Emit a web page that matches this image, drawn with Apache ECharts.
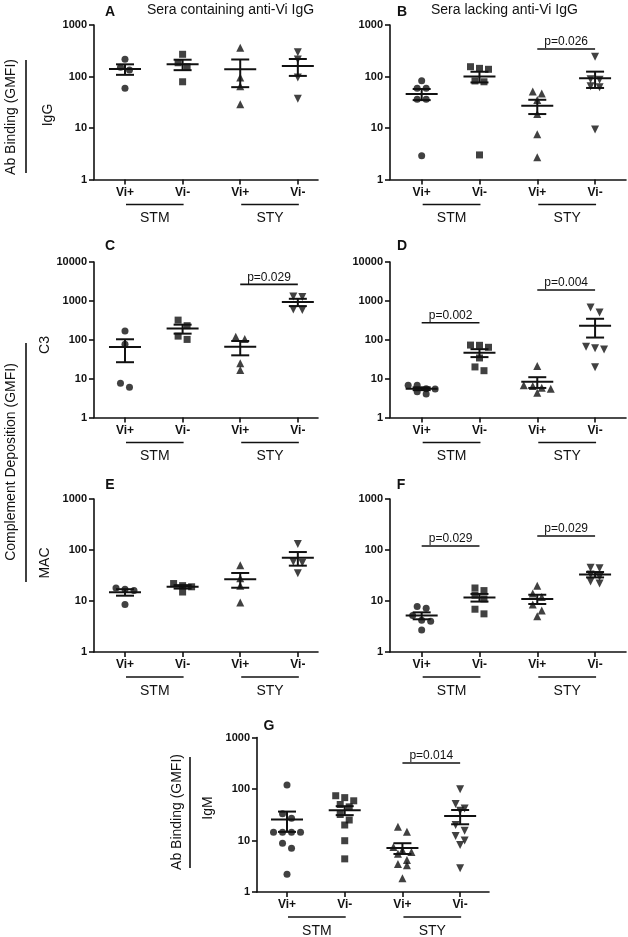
<!DOCTYPE html>
<html><head><meta charset="utf-8">
<script src="https://cdn.jsdelivr.net/npm/echarts@6/dist/echarts.min.js"></script>
<style>html,body{margin:0;padding:0;background:#fff}#c{width:628px;height:937px}</style>
</head><body><div id="c"></div>
<script>
// ---------- DATA ----------
const catLabels = ['Vi+', 'Vi-', 'Vi+', 'Vi-'];
const groupNames = ['STM', 'STY'];
const groupSpans = [[1, 2], [3, 4]];

// Panel A: sera containing anti-Vi IgG, IgG binding
const A_STM_pos = [216, 151, 134, 59];
const A_STM_neg = [270, 185, 155, 79];
const A_STY_pos = [362, 96, 65, 29];
const A_STY_neg = [295, 215, 96, 37];
// Panel B: sera lacking anti-Vi IgG, IgG binding
const B_STM_pos = [83, 59, 59, 36, 36, 2.9];
const B_STM_neg = [155, 144, 138, 82, 79, 3];
const B_STY_pos = [51, 47, 35, 18.6, 7.6, 2.7];
const B_STY_neg = [242, 88, 86, 65, 62, 9.4];
// Panel C: C3, sera containing anti-Vi IgG
const C_STM_pos = [168, 77, 7.6, 6];
const C_STM_neg = [320, 230, 124, 102];
const C_STY_pos = [119, 105, 24.7, 16.6];
const C_STY_neg = [1300, 1250, 600, 580];
// Panel D: C3, sera lacking anti-Vi IgG
const D_STM_pos = [6.8, 6.8, 5.5, 5.4, 4.6, 4.0];
const D_STM_neg = [73, 72, 64, 34, 20, 16];
const D_STY_pos = [21, 6.8, 6.5, 5.8, 5.5, 4.3];
const D_STY_neg = [680, 500, 66, 60, 56, 19.5];
// Panel E: MAC, sera containing anti-Vi IgG
const E_STM_pos = [18, 17, 16, 8.5];
const E_STM_neg = [22, 20, 19, 15];
const E_STY_pos = [50, 28, 20, 9.3];
const E_STY_neg = [131, 59, 56, 35];
// Panel F: MAC, sera lacking anti-Vi IgG
const F_STM_pos = [7.8, 7.2, 5.2, 4.2, 4.0, 2.7];
const F_STM_neg = [18, 16, 13, 11, 6.9, 5.6];
const F_STY_pos = [20, 14, 12, 8.5, 6.5, 5];
const F_STY_neg = [45, 44, 33, 30, 24, 22];
// Panel G: IgM binding
const G_STM_pos = [120, 33, 27, 14.4, 14.4, 14.4, 14.4, 8.8, 7.1, 2.2];
const G_STM_neg = [74, 68, 59, 50, 45, 32, 25, 20, 9.9, 4.4];
const G_STY_pos = [18.5, 14.8, 7.5, 6.5, 6.0, 5.5, 4.2, 3.5, 3.3, 1.85];
const G_STY_neg = [99, 51, 42, 38, 20, 15.5, 12.2, 10, 8.2, 2.9];

// p-value annotations: [fromCategory, toCategory, level, text]
const B_pvals = [[3, 4, 342, 'p=0.026']];
const C_pvals = [[3, 4, 2655, 'p=0.029']];
const D_pvals = [[1, 2, 274, 'p=0.002'], [3, 4, 1896, 'p=0.004']];
const F_pvals = [[1, 2, 120, 'p=0.029'], [3, 4, 188, 'p=0.029']];
const G_pvals = [[3, 4, 320, 'p=0.014']];

const yMaxIg = 1000;
const yMaxC3 = 10000;

// ---------- LAYOUT / STYLE ----------
const FONT = '"Liberation Sans", Arial, Helvetica, sans-serif';
const INK = '#111';
const xLeft = { min: 0.462, max: 4.35 };
const xRight = { min: 0.452, max: 4.535 };
const xG = { min: 0.48, max: 4.5 };

const panels = [
  { groups: [A_STM_pos, A_STM_neg, A_STY_pos, A_STY_neg], yMax: yMaxIg, pvals: [], grid: { left: 94, top: 25, width: 224, height: 154.5 }, x: xLeft },
  { groups: [B_STM_pos, B_STM_neg, B_STY_pos, B_STY_neg], yMax: yMaxIg, pvals: B_pvals, grid: { left: 390, top: 25, width: 236, height: 154.5 }, x: xRight },
  { groups: [C_STM_pos, C_STM_neg, C_STY_pos, C_STY_neg], yMax: yMaxC3, pvals: C_pvals, grid: { left: 94, top: 262, width: 224, height: 155.5 }, x: xLeft },
  { groups: [D_STM_pos, D_STM_neg, D_STY_pos, D_STY_neg], yMax: yMaxC3, pvals: D_pvals, grid: { left: 390, top: 262, width: 236, height: 155.5 }, x: xRight },
  { groups: [E_STM_pos, E_STM_neg, E_STY_pos, E_STY_neg], yMax: yMaxIg, pvals: [], grid: { left: 94, top: 499, width: 224, height: 153 }, x: xLeft },
  { groups: [F_STM_pos, F_STM_neg, F_STY_pos, F_STY_neg], yMax: yMaxIg, pvals: F_pvals, grid: { left: 390, top: 499, width: 236, height: 153 }, x: xRight },
  { groups: [G_STM_pos, G_STM_neg, G_STY_pos, G_STY_neg], yMax: yMaxIg, pvals: G_pvals, grid: { left: 257, top: 737.5, width: 232, height: 154.5 }, x: xG }
];

const markers = [
  { symbol: 'circle', size: 7, rot: 0 },
  { symbol: 'rect', size: 7, rot: 0 },
  { symbol: 'triangle', size: 8, rot: 0 },
  { symbol: 'triangle', size: 8, rot: 180 }
];

const SPREAD = 9, ROW_PX = 6.5;

function mean(a) { return a.reduce((s, v) => s + v, 0) / a.length; }
function sem(a) {
  const m = mean(a);
  const v = a.reduce((s, x) => s + (x - m) * (x - m), 0) / (a.length - 1);
  return Math.sqrt(v) / Math.sqrt(a.length);
}
// deterministic scatter-dot spreading (points at similar heights are placed side by side)
function swarm(values, pxPerDecade) {
  const order = values.map((v, i) => ({ v, i })).sort((a, b) => b.v - a.v);
  const offs = new Array(values.length).fill(0);
  let row = [], rowTop = null;
  const flush = () => { row.forEach((o, j) => { offs[o.i] = (j - (row.length - 1) / 2) * SPREAD; }); row = []; };
  for (const o of order) {
    if (row.length && pxPerDecade * Math.log10(rowTop / o.v) > ROW_PX) flush();
    if (!row.length) rowTop = o.v;
    row.push(o);
  }
  flush();
  return offs;
}

const grids = [], xAxes = [], yAxes = [], series = [];
const lineStyle = { color: INK, width: 1.6 };

panels.forEach((p, i) => {
  grids.push(Object.assign({ containLabel: false }, p.grid));
  xAxes.push({
    gridIndex: i, type: 'value', min: p.x.min, max: p.x.max,
    axisLine: { show: true, onZero: false, lineStyle },
    axisTick: { show: true, customValues: [1, 2, 3, 4], length: 5, lineStyle },
    axisLabel: { show: true, customValues: [1, 2, 3, 4], formatter: v => catLabels[Math.round(v) - 1] || '',
      fontFamily: FONT, fontWeight: 'bold', fontSize: 12, color: INK, margin: 7 },
    splitLine: { show: false }
  });
  yAxes.push({
    gridIndex: i, type: 'log', logBase: 10, min: 1, max: p.yMax,
    axisLine: { show: true, onZero: false, lineStyle },
    axisTick: { show: true, length: 5, lineStyle },
    axisLabel: { formatter: v => String(Math.round(v)), fontFamily: FONT, fontWeight: 'bold', fontSize: 11, color: INK, margin: 7 },
    splitLine: { show: false }
  });
  const decades = Math.log10(p.yMax);
  const pxPerDecade = p.grid.height / decades;

  p.groups.forEach((g, j) => {
    const offs = swarm(g, pxPerDecade);
    const mk = markers[j];
    series.push({
      type: 'scatter', xAxisIndex: i, yAxisIndex: i, silent: true, z: 3,
      symbol: mk.symbol, symbolSize: mk.size, symbolRotate: mk.rot,
      itemStyle: { color: INK },
      data: g.map((v, k) => ({ value: [j + 1, v], symbolOffset: [offs[k], 0] }))
    });
  });

  // mean +/- SEM
  series.push({
    type: 'custom', xAxisIndex: i, yAxisIndex: i, silent: true, z: 5, clip: false,
    encode: { x: 0, y: 1 },
    data: p.groups.map((g, j) => [j + 1, mean(g), sem(g)]),
    renderItem: (params, api) => {
      const k = api.value(0), m = api.value(1), s = api.value(2);
      const c = api.coord([k, m]), hi = api.coord([k, m + s]), lo = api.coord([k, Math.max(m - s, 1e-3)]);
      const st = { stroke: INK, lineWidth: 2 };
      return { type: 'group', children: [
        { type: 'line', shape: { x1: c[0] - 16, y1: c[1], x2: c[0] + 16, y2: c[1] }, style: st },
        { type: 'line', shape: { x1: hi[0], y1: hi[1], x2: lo[0], y2: lo[1] }, style: st },
        { type: 'line', shape: { x1: hi[0] - 9, y1: hi[1], x2: hi[0] + 9, y2: hi[1] }, style: st },
        { type: 'line', shape: { x1: lo[0] - 9, y1: lo[1], x2: lo[0] + 9, y2: lo[1] }, style: st }
      ] };
    }
  });

  // group labels under the axis (STM / STY with underline)
  series.push({
    type: 'custom', xAxisIndex: i, yAxisIndex: i, silent: true, z: 5, clip: false,
    encode: { x: [0, 2], y: 1 },
    data: groupSpans.map((sp, j) => [sp[0], 1, sp[1], j]),
    renderItem: (params, api) => {
      const a = api.coord([api.value(0), api.value(1)]);
      const b = api.coord([api.value(2), api.value(1)]);
      const name = groupNames[api.value(3)];
      return { type: 'group', children: [
        { type: 'line', shape: { x1: a[0] + 1, y1: a[1] + 25, x2: b[0] + 1, y2: b[1] + 25 }, style: { stroke: INK, lineWidth: 1.6 } },
        { type: 'text', x: (a[0] + b[0]) / 2 + 1, y: a[1] + 39, style: { text: name, font: '14px ' + FONT, fill: INK, align: 'center', verticalAlign: 'middle', textAlign: 'center', textVerticalAlign: 'middle' } }
      ] };
    }
  });

  if (p.pvals.length) {
    const pv = p.pvals;
    series.push({
      type: 'custom', xAxisIndex: i, yAxisIndex: i, silent: true, z: 5, clip: false,
      encode: { x: [0, 2], y: 1 },
      data: pv.map((q, j) => [q[0], q[2], q[1], j]),
      renderItem: (params, api) => {
        const a = api.coord([api.value(0), api.value(1)]);
        const b = api.coord([api.value(2), api.value(1)]);
        const txt = pv[api.value(3)][3];
        return { type: 'group', children: [
          { type: 'line', shape: { x1: a[0], y1: a[1], x2: b[0], y2: b[1] }, style: { stroke: INK, lineWidth: 1.6 } },
          { type: 'text', x: (a[0] + b[0]) / 2, y: a[1] - 7, style: { text: txt, font: '12px ' + FONT, fill: INK, align: 'center', verticalAlign: 'middle', textAlign: 'center', textVerticalAlign: 'middle' } }
        ] };
      }
    });
  }
});

function txt(x, y, text, size, bold, rot, align) {
  return { type: 'text', x, y, rotation: rot || 0, silent: true,
    style: { text, font: (bold ? 'bold ' : '') + size + 'px ' + FONT, fill: INK,
      align: align || 'center', verticalAlign: 'middle', textAlign: align || 'center', textVerticalAlign: 'middle' } };
}
function vline(x, y1, y2) {
  return { type: 'line', silent: true, shape: { x1: x, y1, x2: x, y2 }, style: { stroke: INK, lineWidth: 1.6 } };
}
const R = Math.PI / 2;
const graphics = [
  txt(110, 12, 'A', 14, true), txt(147, 10, 'Sera containing anti-Vi IgG', 14, false, 0, 'left'),
  txt(402, 12, 'B', 14, true), txt(431, 10, 'Sera lacking anti-Vi IgG', 14, false, 0, 'left'),
  txt(110, 246, 'C', 14, true), txt(402, 246, 'D', 14, true),
  txt(110, 485, 'E', 14, true), txt(401, 485, 'F', 14, true),
  txt(269, 726, 'G', 14, true),
  txt(11, 117, 'Ab Binding (GMFI)', 14, false, R), vline(26, 60, 173), txt(48, 115, 'IgG', 14, false, R),
  txt(11, 462, 'Complement Deposition (GMFI)', 14, false, R), vline(26, 343, 582),
  txt(45, 345, 'C3', 14, false, R), txt(45, 563, 'MAC', 14, false, R),
  txt(177, 812, 'Ab Binding (GMFI)', 14, false, R), vline(190, 757, 868), txt(208, 808, 'IgM', 14, false, R)
];

const chart = echarts.init(document.getElementById('c'), null, { renderer: 'canvas' });
chart.setOption({
  animation: false,
  backgroundColor: '#fff',
  textStyle: { fontFamily: FONT },
  grid: grids, xAxis: xAxes, yAxis: yAxes, series,
  graphic: { elements: graphics }
});
</script></body></html>
